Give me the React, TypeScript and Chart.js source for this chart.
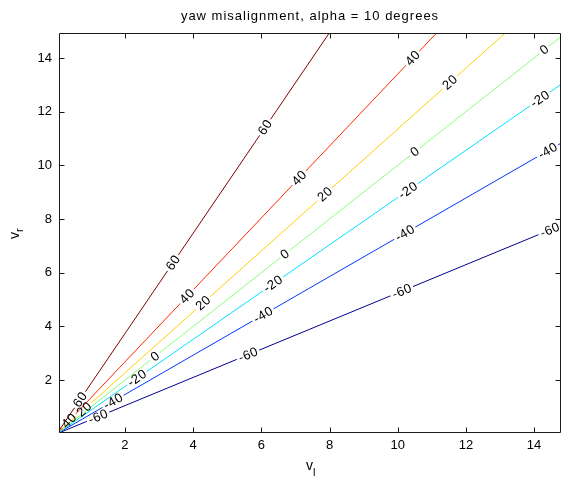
import React, { useEffect, useRef } from "react";
import { Chart, registerables } from "chart.js";

Chart.register(...registerables);

// Contour levels (degrees) and the slope vr/vl of each level line
const levels = [60, 40, 20, 0, -20, -40, -60];
const slopes = [1.868, 1.34, 1.135, 1.0, 0.88, 0.732, 0.525];
// jet colormap entries for each level
const lineColors = ["#800000", "#FF2800", "#FFCF00", "#88FF78", "#00DFFF", "#0038FF", "#00008F"];
// vl positions where each level line carries its inline label
const labelXs = [
  [0.68, 3.41, 6.11],
  [0.36, 3.82, 7.11, 10.44],
  [0.8, 4.29, 7.86, 11.53],
  [2.88, 6.69, 10.5, 14.3],
  [2.35, 6.34, 10.3, 14.17],
  [1.65, 6.05, 10.21, 14.4],
  [1.21, 5.61, 10.12, 14.46],
];
const xTicks = [2, 4, 6, 8, 10, 12, 14];
const yTicks = [2, 4, 6, 8, 10, 12, 14];
const X_MIN = 0.065;
const X_MAX = 14.79;
const Y_MIN = 0.03;
const Y_MAX = 14.93;
const X_END = 16;

const titleText = "yaw misalignment, alpha = 10 degrees";
const FONT = '"Liberation Sans", Arial, Helvetica, sans-serif';
const LABEL_FONT = `13px ${FONT}`;

function lineAngle(chart: any, i: number) {
  const xs = chart.scales.x;
  const ys = chart.scales.y;
  const x0 = xs.getPixelForValue(0);
  const y0 = ys.getPixelForValue(0);
  const x1 = xs.getPixelForValue(10);
  const y1 = ys.getPixelForValue(10 * slopes[i]);
  return Math.atan2(y1 - y0, x1 - x0);
}

function labelBoxes(chart: any, i: number) {
  const ctx = chart.ctx;
  const xs = chart.scales.x;
  const ys = chart.scales.y;
  ctx.save();
  ctx.font = LABEL_FONT;
  (ctx as any).letterSpacing = "0.5px";
  const text = String(levels[i]);
  const w = ctx.measureText(text).width;
  ctx.restore();
  const ang = lineAngle(chart, i);
  return labelXs[i].map((vx) => ({
    cx: xs.getPixelForValue(vx),
    cy: ys.getPixelForValue(vx * slopes[i]),
    ang,
    hw: w / 2 + 2,
    hh: 5,
    text,
  }));
}

const contourPlugin = {
  id: "contourDecor",
  beforeDatasetDraw(chart: any, args: any) {
    const ctx = chart.ctx;
    const a = chart.chartArea;
    ctx.save();
    ctx.beginPath();
    ctx.rect(a.left - 2, a.top - 2, a.right - a.left + 4, a.bottom - a.top + 4);
    for (const b of labelBoxes(chart, args.index)) {
      const c = Math.cos(b.ang);
      const s = Math.sin(b.ang);
      const pts = [
        [-b.hw, -b.hh],
        [b.hw, -b.hh],
        [b.hw, b.hh],
        [-b.hw, b.hh],
      ].map(([u, v]) => [b.cx + u * c - v * s, b.cy + u * s + v * c]);
      ctx.moveTo(pts[0][0], pts[0][1]);
      for (let k = 1; k < 4; k++) ctx.lineTo(pts[k][0], pts[k][1]);
      ctx.closePath();
    }
    ctx.clip("evenodd");
  },
  afterDatasetDraw(chart: any) {
    chart.ctx.restore();
  },
  afterDatasetsDraw(chart: any) {
    const ctx = chart.ctx;
    levels.forEach((_, i) => {
      for (const b of labelBoxes(chart, i)) {
        ctx.save();
        ctx.translate(b.cx, b.cy);
        ctx.rotate(b.ang);
        ctx.font = LABEL_FONT;
        (ctx as any).letterSpacing = "0.5px";
        ctx.fillStyle = "#000";
        ctx.textAlign = "center";
        ctx.textBaseline = "middle";
        ctx.fillText(b.text, 0.25, 0.5);
        ctx.restore();
      }
    });
  },
  afterDraw(chart: any) {
    const ctx = chart.ctx;
    const a = chart.chartArea;
    const xs = chart.scales.x;
    const ys = chart.scales.y;
    const L = Math.round(a.left) + 0.5;
    const R = Math.round(a.right) - 0.5;
    const T = Math.round(a.top) + 0.5;
    const B = Math.round(a.bottom) - 0.5;
    ctx.save();
    ctx.strokeStyle = "#1a1a1a";
    ctx.lineWidth = 1;
    ctx.beginPath();
    ctx.rect(L, T, R - L, B - T);
    const tl = 5;
    for (const v of xTicks) {
      const px = Math.round(xs.getPixelForValue(v)) + 0.5;
      ctx.moveTo(px, B);
      ctx.lineTo(px, B - tl);
      ctx.moveTo(px, T);
      ctx.lineTo(px, T + tl);
    }
    for (const v of yTicks) {
      const py = Math.round(ys.getPixelForValue(v)) + 0.5;
      ctx.moveTo(L, py);
      ctx.lineTo(L + tl, py);
      ctx.moveTo(R, py);
      ctx.lineTo(R - tl, py);
    }
    ctx.stroke();

    // title
    ctx.fillStyle = "#000";
    ctx.font = `13px ${FONT}`;
    (ctx as any).letterSpacing = "1px";
    ctx.textAlign = "center";
    ctx.textBaseline = "alphabetic";
    ctx.fillText(titleText, (a.left + a.right) / 2, 20);

    // x axis label: v with subscript l
    (ctx as any).letterSpacing = "0px";
    ctx.textAlign = "left";
    ctx.font = `14px ${FONT}`;
    const vx = 306;
    ctx.fillText("v", vx, 470);
    const vw = ctx.measureText("v").width;
    ctx.font = `11px ${FONT}`;
    ctx.fillText("l", vx + vw, 476);

    // y axis label: v with subscript r, rotated
    ctx.translate(19, (a.top + a.bottom) / 2);
    ctx.rotate(-Math.PI / 2);
    ctx.font = `14px ${FONT}`;
    ctx.fillText("v", -6, 0);
    const vw2 = ctx.measureText("v").width;
    ctx.font = `11px ${FONT}`;
    ctx.fillText("r", -6 + vw2, 4);
    ctx.restore();
  },
};

export default function App() {
  const canvasRef = useRef<HTMLCanvasElement | null>(null);

  useEffect(() => {
    const canvas = canvasRef.current;
    if (!canvas) return;
    const datasets = levels.map((lv, i) => ({
      label: String(lv),
      data: [
        { x: 0, y: 0 },
        { x: X_END, y: X_END * slopes[i] },
      ],
      borderColor: lineColors[i],
      backgroundColor: lineColors[i],
      borderWidth: 1,
      pointRadius: 0,
      showLine: true,
      fill: false,
    }));
    const tickFont = { family: FONT, size: 13 };
    const chart = new Chart(canvas, {
      type: "scatter",
      data: { datasets },
      options: {
        animation: false,
        responsive: false,
        devicePixelRatio: 1,
        layout: { padding: { top: 33, right: 0, left: 0, bottom: 0 } },
        plugins: {
          legend: { display: false },
          title: { display: false },
          tooltip: { enabled: false },
        },
        scales: {
          x: {
            type: "linear",
            min: X_MIN,
            max: X_MAX,
            grid: { display: false, drawTicks: false },
            border: { display: false },
            ticks: { font: tickFont, color: "#000", padding: 5, maxRotation: 0, autoSkip: false },
            afterBuildTicks: (s: any) => {
              s.ticks = xTicks.map((v) => ({ value: v }));
            },
            afterFit: (s: any) => {
              s.height = 49;
            },
          },
          y: {
            type: "linear",
            min: Y_MIN,
            max: Y_MAX,
            grid: { display: false, drawTicks: false },
            border: { display: false },
            ticks: { font: tickFont, color: "#000", padding: 7, autoSkip: false },
            afterBuildTicks: (s: any) => {
              s.ticks = yTicks.map((v) => ({ value: v }));
            },
            afterFit: (s: any) => {
              s.width = 59;
            },
          },
        },
      } as any,
      plugins: [contourPlugin],
    });
    return () => chart.destroy();
  }, []);

  return (
    <div style={{ position: "absolute", left: 0, top: 0, width: 561, height: 482, background: "#fff" }}>
      <canvas ref={canvasRef} width={561} height={482} />
    </div>
  );
}
